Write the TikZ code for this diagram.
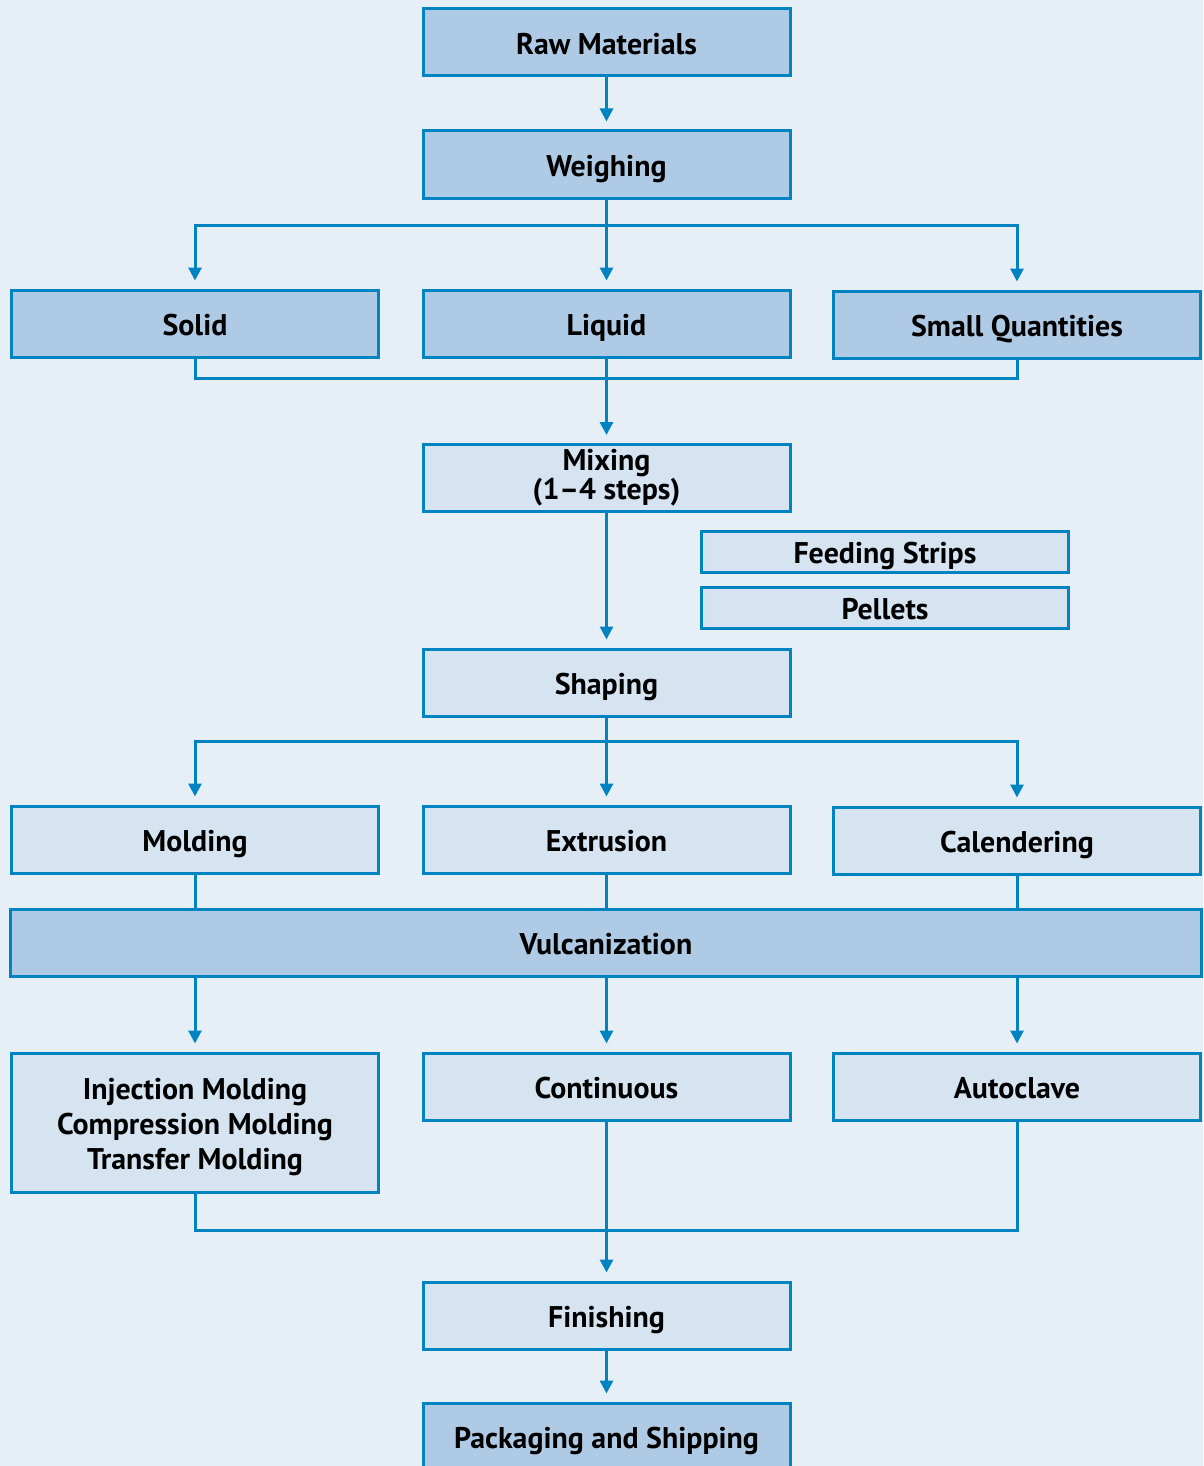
\documentclass[tikz,border=0pt]{standalone}
\usepackage{fontspec}
\setmainfont{PT Sans}
\usetikzlibrary{arrows.meta}
\definecolor{bgc}{HTML}{E6EEF6}
\definecolor{darkc}{HTML}{AFCAE4}
\definecolor{lightc}{HTML}{D6E4F2}
\definecolor{strokec}{HTML}{0083C1}
\tikzset{
  box/.style={draw=strokec, line width=3bp, minimum width=367bp, minimum height=67bp, inner sep=0pt, align=center, font=\bfseries\fontsize{30}{29}\selectfont},
  sl/.style={text height=24bp, text depth=0bp},
  dbox/.style={box, fill=darkc},
  lbox/.style={box, fill=lightc},
  conn/.style={draw=strokec, line width=3bp, line join=miter},
  arr/.style={conn, -{Triangle[width=13bp,length=13bp]}, shorten >=8bp},
}
\begin{document}
\begin{tikzpicture}[x=1bp,y=-1bp]
\fill[bgc] (0,0) rectangle (1203,1466);
\useasboundingbox (0,0) rectangle (1203,1466);
\begin{scope}
\clip (0,0) rectangle (1203,1466);
\node[dbox,sl] (raw) at (606.5,42.5) {Raw Materials};
\node[dbox,sl] (weigh) at (606.5,164.5) {Weighing};
\node[dbox,sl] (solid) at (195,323.5) {Solid};
\node[dbox,sl] (liquid) at (606.5,323.5) {Liquid};
\node[dbox,sl] (small) at (1017,324.5) {Small Quantities};
\node[lbox] (mixing) at (606.5,478) {Mixing\\(1–4 steps)};
\node[lbox,sl, minimum height=41bp] (feed) at (885,551.5) {Feeding Strips};
\node[lbox,sl, minimum height=41bp] (pellets) at (885,607.5) {Pellets};
\node[lbox,sl] (shaping) at (606.5,682.5) {Shaping};
\node[lbox,sl] (molding) at (195,839.5) {Molding};
\node[lbox,sl] (extrusion) at (606.5,839.5) {Extrusion};
\node[lbox,sl] (calend) at (1017,840.5) {Calendering};
\node[dbox,sl, minimum width=1190bp] (vulc) at (606,942.5) {Vulcanization};
\node[lbox, minimum height=139bp] (inj) at (195,1122.5) {\parbox[c][139bp][t]{360bp}{\vspace*{25bp}\centering Injection Molding\\[6bp]Compression Molding\\[6bp]Transfer Molding}};
\node[lbox,sl] (cont) at (606.5,1086.5) {Continuous};
\node[lbox,sl] (auto) at (1017,1086.5) {Autoclave};
\node[lbox,sl] (finish) at (606.5,1315.5) {Finishing};
\node[dbox,sl] (pack) at (606.5,1436.5) {Packaging and Shipping};

\coordinate (b1) at (606.5,225);
\coordinate (m1) at (606.5,378);
\coordinate (b2) at (606.5,741);
\coordinate (m2) at (606.5,1230);

\draw[arr] (raw.south) -- (weigh.north);
\draw[conn] (weigh.south) -- (b1);
\draw[arr] (b1) -- (liquid.north);
\draw[arr] (b1) -| (solid.north);
\draw[arr] (b1) -| (small.north);

\draw[conn] (solid.south) |- (m1) -| (small.south);
\draw[arr] (liquid.south) -- (mixing.north);
\draw[arr] (mixing.south) -- (shaping.north);

\draw[conn] (shaping.south) -- (b2);
\draw[arr] (b2) -- (extrusion.north);
\draw[arr] (b2) -| (molding.north);
\draw[arr] (b2) -| (calend.north);

\draw[conn] (molding.south) -- (molding.south |- vulc.north);
\draw[conn] (extrusion.south) -- (extrusion.south |- vulc.north);
\draw[conn] (calend.south) -- (calend.south |- vulc.north);

\draw[arr] (inj.north |- vulc.south) -- (inj.north);
\draw[arr] (cont.north |- vulc.south) -- (cont.north);
\draw[arr] (auto.north |- vulc.south) -- (auto.north);

\draw[conn] (inj.south) |- (m2) -| (auto.south);
\draw[arr] (cont.south) -- (finish.north);
\draw[arr] (finish.south) -- (pack.north);
\end{scope}
\end{tikzpicture}
\end{document}
